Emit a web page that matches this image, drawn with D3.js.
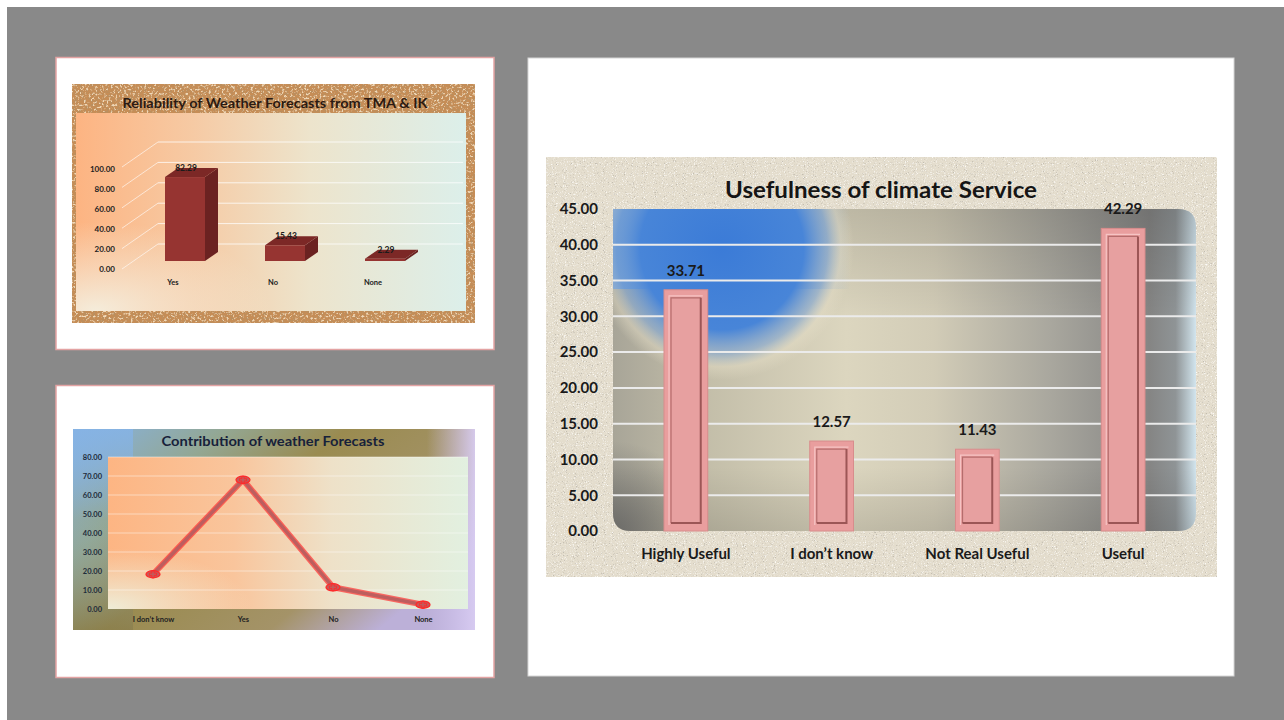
<!DOCTYPE html>
<html>
<head>
<meta charset="utf-8">
<script src="https://cdn.jsdelivr.net/npm/d3@7"></script>
<style>
  html, body { margin: 0; padding: 0; background: #fff; }
  svg { display: block; font-family: Lato, "Open Sans", "DejaVu Sans", sans-serif; }
</style>
</head>
<body>
<svg id="chart" width="1284" height="720"></svg>
<script>
// ---- Reliability of weather forecasts (3D columns) ----
const relCategories = ["Yes", "No", "None"];
const relValues = [82.29, 15.43, 2.29];
const relTicks = [0, 20, 40, 60, 80, 100];

// ---- Contribution of weather forecasts (line) ----
const conCategories = ["I don\u2019t know", "Yes", "No", "None"];
const conValues = [18.29, 68.00, 11.43, 2.29];
const conTicks = [0, 10, 20, 30, 40, 50, 60, 70, 80];

// ---- Usefulness of climate service (columns) ----
const useCategories = ["Highly Useful", "I don\u2019t know", "Not Real Useful", "Useful"];
const useValues = [33.71, 12.57, 11.43, 42.29];
const useTicks = [0, 5, 10, 15, 20, 25, 30, 35, 40, 45];

const fmt = d3.format(".2f");
const svg = d3.select("#chart");
const defs = svg.append("defs");

// ---------- shared definitions ----------
function linGrad(id, stops, attrs) {
  const g = defs.append("linearGradient").attr("id", id);
  Object.entries(attrs || {}).forEach(([k, v]) => g.attr(k, v));
  stops.forEach(s => g.append("stop").attr("offset", s[0]).attr("stop-color", s[1]).attr("stop-opacity", s[2] == null ? 1 : s[2]));
  return g;
}
function radGrad(id, stops, attrs) {
  const g = defs.append("radialGradient").attr("id", id);
  Object.entries(attrs || {}).forEach(([k, v]) => g.attr(k, v));
  stops.forEach(s => g.append("stop").attr("offset", s[0]).attr("stop-color", s[1]).attr("stop-opacity", s[2] == null ? 1 : s[2]));
  return g;
}

// speckle texture: dark and light flecks from fractal noise
function speckle(id, freq, octaves, seed, dark, light, darkA, darkB, lightA, lightB) {
  const f = defs.append("filter").attr("id", id)
    .attr("x", 0).attr("y", 0).attr("width", "100%").attr("height", "100%");
  f.append("feTurbulence").attr("type", "fractalNoise").attr("baseFrequency", freq)
    .attr("numOctaves", octaves).attr("seed", seed).attr("result", "n");
  const dc = d3.color(dark), lc = d3.color(light);
  f.append("feColorMatrix").attr("in", "n").attr("type", "matrix")
    .attr("values", `0 0 0 0 ${dc.r/255} 0 0 0 0 ${dc.g/255} 0 0 0 0 ${dc.b/255} ${darkA} 0 0 0 ${darkB}`)
    .attr("result", "d");
  f.append("feColorMatrix").attr("in", "n").attr("type", "matrix")
    .attr("values", `0 0 0 0 ${lc.r/255} 0 0 0 0 ${lc.g/255} 0 0 0 0 ${lc.b/255} 0 ${lightA} 0 0 ${lightB}`)
    .attr("result", "l");
  f.append("feMerge").call(m => { m.append("feMergeNode").attr("in", "d"); m.append("feMergeNode").attr("in", "l"); })
    .attr("result", "dl");
  f.append("feComposite").attr("in", "dl").attr("in2", "SourceGraphic").attr("operator", "in");
}
speckle("cork", 0.45, 4, 4, "#7a461e", "#deb07a", 5.5, -2.75, -5, 2.3);
speckle("sand", 0.9, 3, 7, "#8a8170", "#f7f3ea", 5, -3.0, -3.5, 1.55);

// ---------- page ----------
svg.append("rect").attr("width", 1284).attr("height", 720).attr("fill", "#ffffff");
svg.append("rect").attr("x", 7).attr("y", 7).attr("width", 1277).attr("height", 713).attr("fill", "#898989");

// slide panels
svg.append("rect").attr("x", 56).attr("y", 57.5).attr("width", 438).attr("height", 292)
  .attr("fill", "#fff").attr("stroke", "#e3a3a3").attr("stroke-width", 1.5);
svg.append("rect").attr("x", 56).attr("y", 385.5).attr("width", 438).attr("height", 292)
  .attr("fill", "#fff").attr("stroke", "#e3a3a3").attr("stroke-width", 1.5);
svg.append("rect").attr("x", 528).attr("y", 58).attr("width", 706).attr("height", 618)
  .attr("fill", "#fff").attr("stroke", "#d6d6d6").attr("stroke-width", 1);

// =====================================================================
// Chart 1: Reliability of Weather Forecasts from TMA & IK
// =====================================================================
(function () {
  const g = svg.append("g");
  const area = { x: 72, y: 84, w: 403, h: 239 };
  g.append("rect").attr("x", area.x).attr("y", area.y).attr("width", area.w).attr("height", area.h).attr("fill", "#c68d56");
  g.append("rect").attr("x", area.x).attr("y", area.y).attr("width", area.w).attr("height", area.h).attr("fill", "#000").attr("filter", "url(#cork)");

  const plot = { x: 76, y: 113, w: 390, h: 198 };
  linGrad("relBg", [[0, "#fdb482"], [0.3, "#f6caa4"], [0.6, "#ede4cc"], [1, "#dcefea"]]);
  radGrad("relLow", [[0, "#f4f2e4", 0.9], [1, "#f4f2e4", 0]], { cx: 0.05, cy: 1, r: 0.45 });
  g.append("rect").attr("x", plot.x).attr("y", plot.y).attr("width", plot.w).attr("height", plot.h).attr("fill", "url(#relBg)");
  g.append("rect").attr("x", plot.x).attr("y", plot.y).attr("width", plot.w).attr("height", plot.h).attr("fill", "url(#relLow)");

  g.append("text").attr("x", 275).attr("y", 108).attr("text-anchor", "middle")
    .attr("font-size", 12.5).attr("font-weight", 700).attr("fill", "#2b1a12")
    .attr("textLength", 305).attr("lengthAdjust", "spacingAndGlyphs")
    .text("Reliability of Weather Forecasts from TMA & IK");

  // front-face value scale, wall offset for the 3D depth
  const y = d3.scaleLinear().domain([0, 100]).range([261, 159]);
  const wallDy = -17, wallX0 = 158, wallX1 = 463, sideX = 122, sideDy = 8;
  const depth = { dx: 13, dy: -9 };

  // gridlines on back and side walls
  relTicks.forEach(t => {
    const yy = y(t) + wallDy;
    g.append("line").attr("x1", wallX0).attr("x2", wallX1).attr("y1", yy).attr("y2", yy)
      .attr("stroke", "#ffffff").attr("stroke-opacity", 0.75).attr("stroke-width", 1);
    g.append("line").attr("x1", sideX).attr("x2", wallX0).attr("y1", y(t) + sideDy).attr("y2", yy)
      .attr("stroke", "#ffffff").attr("stroke-opacity", 0.6).attr("stroke-width", 1);
  });

  // value axis (labels only)
  const yLab = d3.scaleLinear().domain([0, 100]).range([269, 169]);
  const ax = g.append("g").attr("transform", "translate(115,0)")
    .call(d3.axisLeft(yLab).tickValues(relTicks).tickFormat(fmt).tickSize(0).tickPadding(0));
  ax.select(".domain").remove();
  ax.selectAll("text").attr("font-size", 8).attr("font-weight", 700).attr("fill", "#222")
    .attr("font-family", "Lato, sans-serif");

  const x = d3.scaleBand().domain(relCategories).range([135, 435]).paddingInner(0.6).paddingOuter(0.3);
  const bw = x.bandwidth();

  relCategories.forEach((c, i) => {
    const v = relValues[i];
    const x0 = x(c), x1 = x0 + bw, yt = y(v), yb = y(0);
    // side face
    g.append("path").attr("d", `M${x1},${yb}L${x1 + depth.dx},${yb + depth.dy}L${x1 + depth.dx},${yt + depth.dy}L${x1},${yt}Z`)
      .attr("fill", "#6b2221");
    // top face
    g.append("path").attr("d", `M${x0},${yt}L${x0 + depth.dx},${yt + depth.dy}L${x1 + depth.dx},${yt + depth.dy}L${x1},${yt}Z`)
      .attr("fill", "#7c2826");
    // front face
    g.append("rect").attr("x", x0).attr("y", yt).attr("width", bw).attr("height", yb - yt)
      .attr("fill", "#963431");
    // value label
    g.append("text").attr("x", x0 + bw / 2 + 1).attr("y", yt + depth.dy + 3).attr("text-anchor", "middle")
      .attr("font-size", 8.5).attr("font-weight", 700).attr("fill", "#1b1b1b").text(fmt(v));
    // category label
    g.append("text").attr("x", x0 + bw / 2 - 12).attr("y", 285).attr("text-anchor", "middle")
      .attr("font-size", 7.5).attr("font-weight", 700).attr("fill", "#222").text(c);
  });
})();

// =====================================================================
// Chart 2: Contribution of weather Forecasts
// =====================================================================
(function () {
  const g = svg.append("g");
  const area = { x: 73, y: 429, w: 402, h: 201 };
  linGrad("conArea", [[0, "#86b3e4"], [0.28, "#93a793"], [0.5, "#9a8b50"], [0.8, "#a49368"], [1, "#bcb0d8"]],
    { x1: 0, y1: 0, x2: 1, y2: 0.6 });
  linGrad("conEdge", [[0, "#cfc2ee", 0], [0.88, "#cfc2ee", 0], [1, "#d8ccf2", 0.95]]);
  linGrad("conLeft", [[0, "#86b3e4", 0.9], [0.45, "#86b3e4", 0], [1, "#7d7448", 0.45]], { x1: 0, y1: 0, x2: 0, y2: 1 });
  g.append("rect").attr("x", area.x).attr("y", area.y).attr("width", area.w).attr("height", area.h).attr("fill", "url(#conArea)");
  g.append("rect").attr("x", area.x).attr("y", area.y).attr("width", 60).attr("height", area.h).attr("fill", "url(#conLeft)");
  g.append("rect").attr("x", area.x).attr("y", area.y).attr("width", area.w).attr("height", area.h).attr("fill", "url(#conEdge)");

  const plot = { x: 108, y: 457, w: 360, h: 152 };
  linGrad("conBg", [[0, "#fdb583"], [0.35, "#f9c59c"], [0.62, "#eee1c8"], [1, "#e2f0e0"]]);
  radGrad("conLow", [[0, "#eef0dc", 0.95], [1, "#eef0dc", 0]], { cx: 0, cy: 1, r: 0.4 });
  g.append("rect").attr("x", plot.x).attr("y", plot.y).attr("width", plot.w).attr("height", plot.h).attr("fill", "url(#conBg)");
  g.append("rect").attr("x", plot.x).attr("y", plot.y).attr("width", plot.w).attr("height", plot.h).attr("fill", "url(#conLow)");

  g.append("text").attr("x", 273).attr("y", 446).attr("text-anchor", "middle")
    .attr("font-size", 12.5).attr("font-weight", 700).attr("fill", "#17213a")
    .attr("textLength", 223).attr("lengthAdjust", "spacingAndGlyphs")
    .text("Contribution of weather Forecasts");

  const y = d3.scaleLinear().domain([0, 80]).range([plot.y + plot.h, plot.y]);
  const x = d3.scalePoint().domain(conCategories).range([plot.x, plot.x + plot.w]).padding(0.5);

  conTicks.slice(1).forEach(t => {
    g.append("line").attr("x1", plot.x).attr("x2", plot.x + plot.w).attr("y1", y(t)).attr("y2", y(t))
      .attr("stroke", "#ffffff").attr("stroke-opacity", 0.45).attr("stroke-width", 1);
  });

  const ax = g.append("g").attr("transform", `translate(${plot.x - 6},0)`)
    .call(d3.axisLeft(y).tickValues(conTicks).tickFormat(fmt).tickSize(0).tickPadding(0));
  ax.select(".domain").remove();
  ax.selectAll("text").attr("font-size", 7.5).attr("font-weight", 700).attr("fill", "#1e2b3a")
    .attr("font-family", "Lato, sans-serif");

  const xa = g.append("g").attr("transform", `translate(0,${plot.y + plot.h + 8})`)
    .call(d3.axisBottom(x).tickSize(0).tickPadding(0));
  xa.select(".domain").remove();
  xa.selectAll("text").attr("font-size", 7.5).attr("font-weight", 700).attr("fill", "#222")
    .attr("font-family", "Lato, sans-serif");

  const line = d3.line().x((d, i) => x(conCategories[i])).y(d => y(d));
  g.append("path").attr("d", line(conValues)).attr("fill", "none")
    .attr("stroke", "#ff3030").attr("stroke-opacity", 0.7).attr("stroke-width", 6).attr("stroke-linejoin", "round");
  g.append("path").attr("d", line(conValues)).attr("fill", "none")
    .attr("stroke", "#bd5e5e").attr("stroke-width", 3.4).attr("stroke-linejoin", "round");

  conValues.forEach((v, i) => {
    const cx = x(conCategories[i]), cy = y(v);
    g.append("ellipse").attr("cx", cx).attr("cy", cy).attr("rx", 7).attr("ry", 3.6)
      .attr("fill", "#c45a5a").attr("stroke", "#ff2a2a").attr("stroke-width", 1.3);
    g.append("path").attr("transform", `translate(${cx},${cy})`)
      .attr("d", d3.symbol().type(d3.symbolCross).size(28)())
      .attr("fill", "none").attr("stroke", "#ff2a2a").attr("stroke-width", 0.9);
  });
})();

// =====================================================================
// Chart 3: Usefulness of climate Service
// =====================================================================
(function () {
  const g = svg.append("g");
  const area = { x: 546, y: 157, w: 671, h: 420 };
  g.append("rect").attr("x", area.x).attr("y", area.y).attr("width", area.w).attr("height", area.h).attr("fill", "#e4ddcd");
  g.append("rect").attr("x", area.x).attr("y", area.y).attr("width", area.w).attr("height", area.h).attr("fill", "#000").attr("filter", "url(#sand)");

  const plot = { x0: 613, y0: 209, x1: 1196, y1: 531 };
  const r = 18;
  const shape = `M${plot.x0},${plot.y0}L${plot.x1 - r},${plot.y0}Q${plot.x1},${plot.y0} ${plot.x1},${plot.y0 + r}` +
    `L${plot.x1},${plot.y1 - r}Q${plot.x1},${plot.y1} ${plot.x1 - r},${plot.y1}` +
    `L${plot.x0 + r},${plot.y1}Q${plot.x0},${plot.y1} ${plot.x0},${plot.y1 - r}Z`;
  defs.append("clipPath").attr("id", "useClip").append("path").attr("d", shape);

  linGrad("useBase", [[0, "#a8a598"], [0.15, "#c2bda8"], [0.4, "#dcd6bf"], [0.55, "#d2ccb7"],
    [0.75, "#a9a79e"], [0.92, "#858584"], [0.965, "#8f9496"], [1, "#d2e5ee"]],
    { gradientUnits: "userSpaceOnUse", x1: plot.x0, x2: plot.x1, y1: 0, y2: 0 });
  linGrad("useShade", [[0, "#000", 0.14], [0.35, "#000", 0], [0.8, "#000", 0], [1, "#000", 0.12]],
    { x1: 0, y1: 0, x2: 0, y2: 1 });
  radGrad("useCorner", [[0, "#5e5e5e", 0.75], [1, "#5e5e5e", 0]],
    { gradientUnits: "userSpaceOnUse", cx: plot.x0, cy: plot.y1, r: 90 });
  radGrad("useBlue", [[0, "#3b7bd7"], [0.62, "#4885d8"], [0.8, "#86a9d2", 0.65], [0.9, "#e6dfc8", 0.45], [1, "#e6dfc8", 0]],
    { gradientUnits: "userSpaceOnUse", cx: 722, cy: 248, r: 132 });
  linGrad("useBlueBand", [[0, "#4584d8"], [0.55, "#4a87d8"], [1, "#4a87d8", 0]],
    { gradientUnits: "userSpaceOnUse", x1: plot.x0, x2: 850, y1: 0, y2: 0 });

  const bg = g.append("g").attr("clip-path", "url(#useClip)");
  const full = () => bg.append("rect").attr("x", plot.x0).attr("y", plot.y0)
    .attr("width", plot.x1 - plot.x0).attr("height", plot.y1 - plot.y0);
  full().attr("fill", "url(#useBase)");
  full().attr("fill", "url(#useShade)");
  full().attr("fill", "url(#useCorner)");
  bg.append("rect").attr("x", plot.x0).attr("y", plot.y0).attr("width", 240).attr("height", 80).attr("fill", "url(#useBlueBand)");
  full().attr("fill", "url(#useBlue)");

  g.append("text").attr("x", 881).attr("y", 198).attr("text-anchor", "middle")
    .attr("font-size", 23).attr("font-weight", 700).attr("fill", "#151515")
    .attr("textLength", 312).attr("lengthAdjust", "spacingAndGlyphs")
    .text("Usefulness of climate Service");

  const y = d3.scaleLinear().domain([0, 45]).range([plot.y1, plot.y0]);
  const x = d3.scaleBand().domain(useCategories).range([plot.x0, plot.x1]).paddingInner(0.7).paddingOuter(0.35);

  useTicks.slice(1, -1).forEach(t => {
    g.append("line").attr("x1", plot.x0).attr("x2", plot.x1).attr("y1", y(t)).attr("y2", y(t))
      .attr("stroke", "#ebebeb").attr("stroke-width", 2);
  });

  const ax = g.append("g").attr("transform", `translate(598,0)`)
    .call(d3.axisLeft(y).tickValues(useTicks).tickFormat(fmt).tickSize(0).tickPadding(0));
  ax.select(".domain").remove();
  ax.selectAll("text").attr("font-size", 15).attr("font-weight", 700).attr("fill", "#1a1a1a")
    .attr("font-family", "Lato, sans-serif");

  const xa = g.append("g").attr("transform", `translate(0,${plot.y1 + 17})`)
    .call(d3.axisBottom(x).tickSize(0).tickPadding(0));
  xa.select(".domain").remove();
  xa.selectAll("text").attr("font-size", 15).attr("font-weight", 700).attr("fill", "#1a1a1a")
    .attr("font-family", "Lato, sans-serif").attr("dy", "0.75em");

  const bw = x.bandwidth();
  useCategories.forEach((c, i) => {
    const v = useValues[i];
    const x0 = x(c), yt = y(v), yb = y(0);
    const ix = 7, iy = 8;
    g.append("rect").attr("x", x0).attr("y", yt).attr("width", bw).attr("height", yb - yt)
      .attr("fill", "#e99e9e").attr("stroke", "#d88c8c").attr("stroke-width", 1);
    // raised inner panel
    const a = x0 + ix, b = x0 + bw - ix, t = yt + iy, u = yb - iy;
    g.append("rect").attr("x", a).attr("y", t).attr("width", b - a).attr("height", u - t).attr("fill", "#e7a0a0");
    g.append("path").attr("d", `M${a},${u}L${a},${t}L${b},${t}`).attr("fill", "none")
      .attr("stroke", "#b56d6d").attr("stroke-width", 1.2);
    g.append("path").attr("d", `M${b},${t}L${b},${u}L${a},${u}`).attr("fill", "none")
      .attr("stroke", "#9c5656").attr("stroke-width", 2);
    g.append("path").attr("d", `M${a - 2},${u + 2}L${a - 2},${t - 2}L${b + 2},${t - 2}`).attr("fill", "none")
      .attr("stroke", "#f6c4c4").attr("stroke-width", 1.2);
    g.append("text").attr("x", x0 + bw / 2).attr("y", yt - 14).attr("text-anchor", "middle")
      .attr("font-size", 15).attr("font-weight", 700).attr("fill", "#1a1a1a").text(fmt(v));
  });
})();
</script>
</body>
</html>
